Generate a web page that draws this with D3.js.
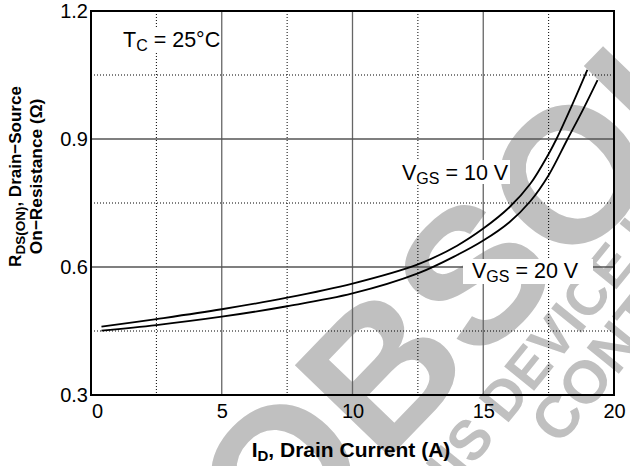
<!DOCTYPE html>
<html>
<head>
<meta charset="utf-8">
<script src="https://cdn.jsdelivr.net/npm/d3@7"></script>
<style>
body { margin: 0; background: #fff; }
svg { display: block; font-family: "Liberation Sans", Arial, Helvetica, sans-serif; }
</style>
</head>
<body>
<svg id="chart" width="630" height="466"></svg>
<script>
// data
var idTicks = [0, 5, 10, 15, 20];
var rTicks = [0.3, 0.6, 0.9, 1.2];
var idMinor = [2.5, 7.5, 12.5, 17.5];
var rMinor = [0.45, 0.75, 1.05];

var vgs10Id = [0.4, 2.5, 5, 7.5, 10, 12.5, 14, 15, 16, 16.8, 17.5, 17.8, 18.4, 18.98];
var vgs10R  = [0.460, 0.478, 0.501, 0.528, 0.561, 0.606, 0.650, 0.690, 0.740, 0.795, 0.865, 0.900, 0.980, 1.062];
var vgs20Id = [0.4, 2.5, 5, 7.5, 10, 12.5, 14, 15, 16, 16.8, 17.5, 18.2, 18.8, 19.37];
var vgs20R  = [0.451, 0.464, 0.4835, 0.508, 0.538, 0.585, 0.628, 0.662, 0.705, 0.754, 0.815, 0.897, 0.967, 1.038];

var svg = d3.select("#chart");
var x = d3.scaleLinear().domain([0, 20]).range([91, 614]);
var y = d3.scaleLinear().domain([0.3, 1.2]).range([395, 11]);

// WATERMARK
var wm1 = svg.append("g")
    .attr("transform", "rotate(-46)")
    .attr("fill", "#c0c0c0")
    .attr("font-weight", "bold");
wm1.append("text").attr("x", -220).attr("y", 598).attr("font-size", 192).text("OBSOLETE");
var wm2 = svg.append("g")
    .attr("transform", "rotate(-51)")
    .attr("fill", "#c0c0c0")
    .attr("font-weight", "bold");
wm2.append("text").attr("x", -155).attr("y", 661).attr("font-size", 56)
    .text("THIS DEVICE IS NOT RECOMMENDED FOR NEW DESIGN");
wm2.append("text").attr("x", 5).attr("y", 716).attr("font-size", 60)
    .text("CONTACT YOUR ON SEMICONDUCTOR REPRESENTATIVE");

// GRID
var grid = svg.append("g");
grid.selectAll(".vminor").data(idMinor).enter().append("line")
    .attr("x1", d => x(d)).attr("x2", d => x(d)).attr("y1", y(1.2)).attr("y2", y(0.3))
    .attr("stroke", "#000").attr("stroke-width", 1).attr("stroke-dasharray", "1,2");
grid.selectAll(".hminor").data(rMinor).enter().append("line")
    .attr("x1", x(0)).attr("x2", x(20)).attr("y1", d => y(d)).attr("y2", d => y(d))
    .attr("stroke", "#000").attr("stroke-width", 1).attr("stroke-dasharray", "1,2");
grid.selectAll(".vmajor").data(idTicks.slice(1, -1)).enter().append("line")
    .attr("x1", d => x(d)).attr("x2", d => x(d)).attr("y1", y(1.2)).attr("y2", y(0.3))
    .attr("stroke", "#666").attr("stroke-width", 1.3);
grid.selectAll(".hmajor").data(rTicks.slice(1, -1)).enter().append("line")
    .attr("x1", x(0)).attr("x2", x(20)).attr("y1", d => y(d)).attr("y2", d => y(d))
    .attr("stroke", "#555").attr("stroke-width", 1.3);

// CURVES
var line = d3.line()
    .x(d => x(d[0]))
    .y(d => y(d[1]))
    .curve(d3.curveCatmullRom.alpha(0.5));
svg.append("path").datum(d3.zip(vgs10Id, vgs10R))
    .attr("d", line).attr("fill", "none").attr("stroke", "#000").attr("stroke-width", 1.8);
svg.append("path").datum(d3.zip(vgs20Id, vgs20R))
    .attr("d", line).attr("fill", "none").attr("stroke", "#000").attr("stroke-width", 1.8);

// FRAME
svg.append("rect")
    .attr("x", x(0)).attr("y", y(1.2))
    .attr("width", x(20) - x(0)).attr("height", y(0.3) - y(1.2))
    .attr("fill", "none").attr("stroke", "#000").attr("stroke-width", 2);

// AXES
var xAxis = svg.append("g")
    .attr("transform", "translate(0," + y(0.3) + ")")
    .call(d3.axisBottom(x).tickValues(idTicks).tickSize(0).tickPadding(9).tickFormat(d3.format("d")));
xAxis.select(".domain").remove();
xAxis.selectAll("text")
    .attr("font-size", 20).attr("fill", "#000")
    .attr("font-family", "Liberation Sans, Arial, sans-serif")
    .attr("dx", d => d === 0 ? 6 : 0);

var yAxis = svg.append("g")
    .attr("transform", "translate(" + x(0) + ",0)")
    .call(d3.axisLeft(y).tickValues(rTicks).tickSize(0).tickPadding(3).tickFormat(d3.format(".1f")));
yAxis.select(".domain").remove();
yAxis.selectAll("text")
    .attr("font-size", 20).attr("fill", "#000")
    .attr("font-family", "Liberation Sans, Arial, sans-serif");

// LABELS WITH WHITE BOXES
function label(bx, by, bw, bh, tx, ty, main, sub, rest) {
    svg.append("rect").attr("x", bx).attr("y", by).attr("width", bw).attr("height", bh).attr("fill", "#fff");
    var t = svg.append("text").attr("x", tx).attr("y", ty).attr("font-size", 21.5).attr("fill", "#000");
    t.append("tspan").text(main);
    t.append("tspan").attr("font-size", 16).attr("dy", 4).text(sub);
    t.append("tspan").attr("dy", -4).text(rest);
}
label(119, 27, 101, 26, 123, 47, "T", "C", " = 25\u00B0C");
label(398, 160, 112, 24, 402, 180, "V", "GS", " = 10 V");
label(463, 259, 130, 25, 472, 278, "V", "GS", " = 20 V");

// AXIS TITLES
var xt = svg.append("text")
    .attr("x", 351).attr("y", 457)
    .attr("text-anchor", "middle")
    .attr("font-size", 21).attr("font-weight", "bold");
xt.append("tspan").text("I");
xt.append("tspan").attr("font-size", 15).attr("dy", 4).text("D");
xt.append("tspan").attr("dy", -4).text(", Drain Current (A)");

var yt = svg.append("text")
    .attr("transform", "translate(21,176.5) rotate(-90)")
    .attr("text-anchor", "middle")
    .attr("font-size", 17).attr("font-weight", "bold");
yt.append("tspan").text("R");
yt.append("tspan").attr("font-size", 13.5).attr("dy", 4).text("DS(ON)");
yt.append("tspan").attr("dy", -4).text(", Drain\u2212Source");
svg.append("text")
    .attr("transform", "translate(42,176.5) rotate(-90)")
    .attr("text-anchor", "middle")
    .attr("font-size", 17.3).attr("font-weight", "bold")
    .text("On\u2212Resistance (\u03A9)");
</script>
</body>
</html>
